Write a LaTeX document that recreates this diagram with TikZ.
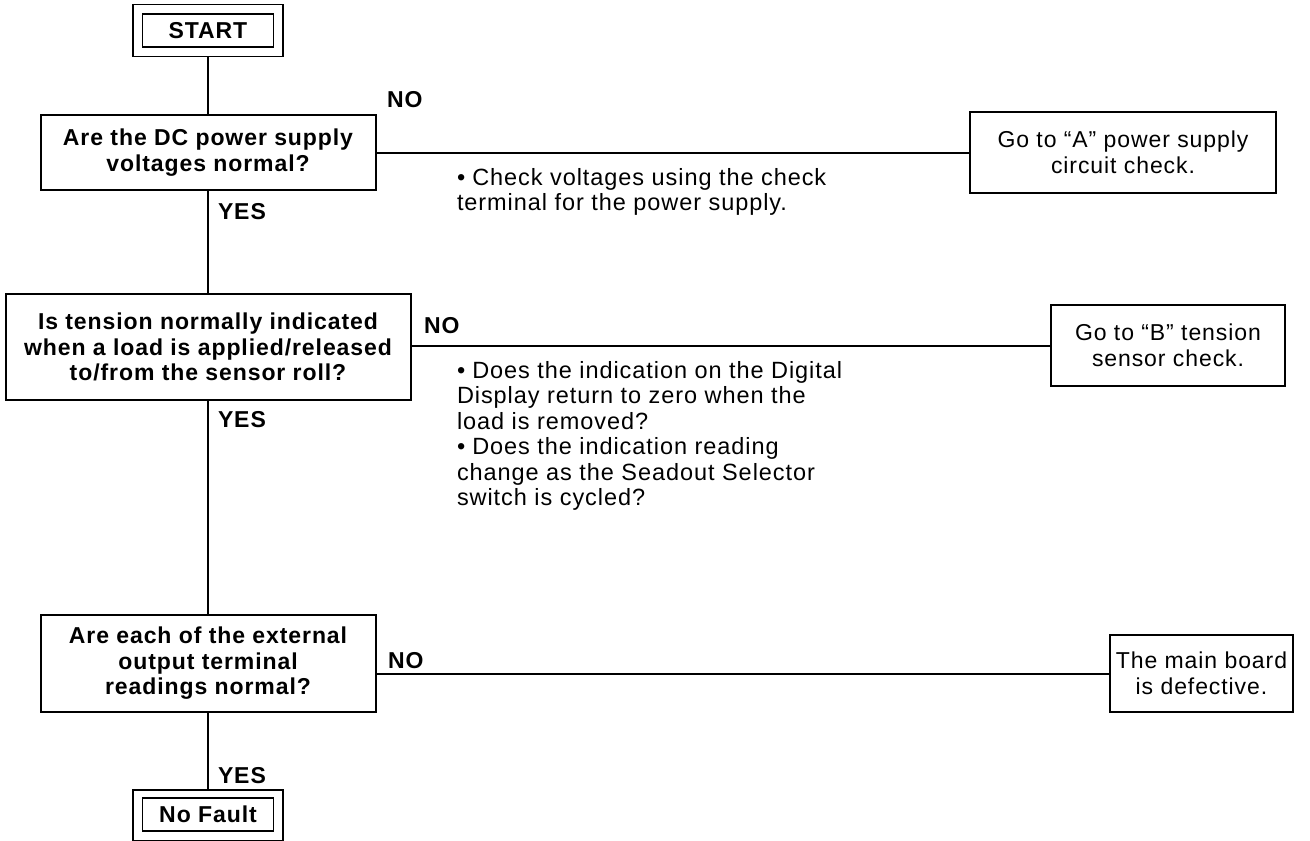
\documentclass[tikz,border=0pt]{standalone}
\usepackage{fontspec}
\setmainfont{Liberation Sans}[LetterSpace=4]
\begin{document}
\begin{tikzpicture}[x=1pt,y=-1pt,
  every node/.style={inner sep=0pt,outer sep=0pt},
  box/.style={draw,line width=2pt,align=center,font=\fontsize{23}{25.5}\selectfont},
  qbox/.style={box,font=\fontsize{23}{25.5}\selectfont\bfseries},
  term/.style={draw,line width=1.3pt},
  lab/.style={anchor=west,font=\fontsize{23}{25.5}\selectfont\bfseries},
  note/.style={anchor=north west,align=left,font=\fontsize{23.5}{25.5}\selectfont},
  conn/.style={line width=2pt}]
\useasboundingbox (0,0) rectangle (1310,841);
% START
\node[term,minimum width=150pt,minimum height=52pt] (start) at (208,30.5) {};
\node[term,minimum width=131pt,minimum height=33pt,font=\fontsize{23}{25.5}\selectfont\bfseries] (starti) at (208,30.5) {START};
% Q1
\node[qbox,minimum width=335pt,minimum height=75pt] (q1) at (208,152.5) {Are the DC power supply\\voltages normal?};
\node[box,minimum width=306pt,minimum height=81pt] (ra) at (1123,152.5) {Go to “A” power supply\\circuit check.};
% Q2
\node[qbox,minimum width=405pt,minimum height=106pt] (q2) at (208,347) {Is tension normally indicated\\when a load is applied/released\\to/from the sensor roll?};
\node[box,minimum width=234pt,minimum height=81pt] (rb) at (1168,345.5) {Go to “B” tension\\sensor check.};
% Q3
\node[qbox,minimum width=335pt,minimum height=97pt] (q3) at (208,663.5) {Are each of the external\\output terminal\\readings normal?};
\node[box,minimum width=183pt,minimum height=77pt] (rc) at (1201.5,673.5) {The main board\\is defective.};
% No Fault
\node[term,minimum width=150pt,minimum height=51pt] (end) at (208,815.5) {};
\node[term,minimum width=131pt,minimum height=33pt,font=\fontsize{23}{25.5}\selectfont\bfseries] (endi) at (208,814.5) {No Fault};
% connectors
\draw[conn] (start.south) -- (q1.north);
\draw[conn] (q1.south) -- (q2.north);
\draw[conn] (q2.south) -- (q3.north);
\draw[conn] (q3.south) -- (end.north);
\draw[conn] (q1.east) -- (ra.west);
\draw[conn] (q2.east |- rb.west) -- (rb.west);
\draw[conn] (q3.east |- rc.west) -- (rc.west);
% labels
\node[lab] (no1) at (387,100) {NO};
\node[lab] (no2) at (424,326) {NO};
\node[lab] (no3) at (388,661) {NO};
\node[lab] (yes1) at (218,212) {YES};
\node[lab] (yes2) at (218,420) {YES};
\node[lab] (yes3) at (218,776) {YES};
% notes
\node[note] (n1) at (457,168) {•\hspace{0.3em}Check voltages using the check\\terminal for the power supply.};
\node[note] (n2) at (457,361) {•\hspace{0.3em}Does the indication on the Digital\\Display return to zero when the\\load is removed?\\•\hspace{0.3em}Does the indication reading\\change as the Seadout Selector\\switch is cycled?};
\end{tikzpicture}
\end{document}
